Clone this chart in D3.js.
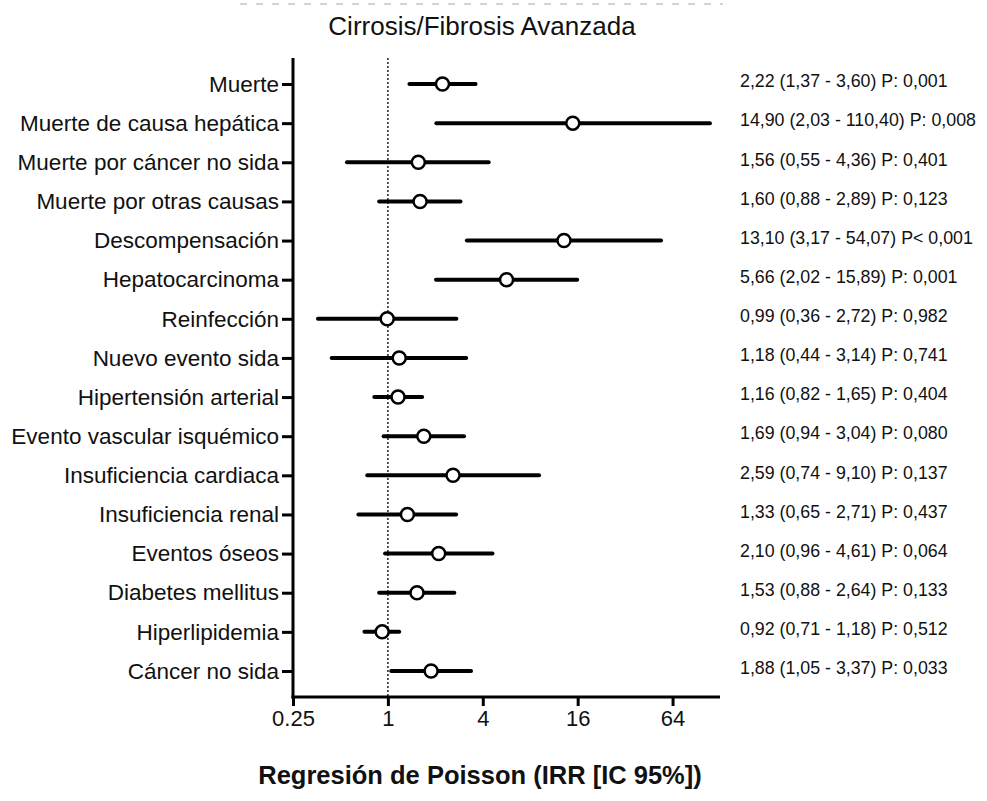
<!DOCTYPE html>
<html lang="es">
<head>
    <meta charset="UTF-8">
    <title>Cirrosis/Fibrosis Avanzada</title>
    <script src="https://cdn.jsdelivr.net/npm/d3@7/dist/d3.min.js"></script>
    <style>
        body { margin: 0; background: #fff; }
        text { font-family: "Liberation Sans", Arial, Helvetica, sans-serif; fill: #111; }
    </style>
</head>
<body>
<div class="forest-container"></div>
<script>
    const width = 987
    const height = 801

    const categories = [
        'Muerte', 'Muerte de causa hepática', 'Muerte por cáncer no sida', 'Muerte por otras causas',
        'Descompensación', 'Hepatocarcinoma', 'Reinfección', 'Nuevo evento sida',
        'Hipertensión arterial', 'Evento vascular isquémico', 'Insuficiencia cardiaca', 'Insuficiencia renal',
        'Eventos óseos', 'Diabetes mellitus', 'Hiperlipidemia', 'Cáncer no sida'
    ]
    const irr = [2.22, 14.90, 1.56, 1.60, 13.10, 5.66, 0.99, 1.18, 1.16, 1.69, 2.59, 1.33, 2.10, 1.53, 0.92, 1.88]
    const lower = [1.37, 2.03, 0.55, 0.88, 3.17, 2.02, 0.36, 0.44, 0.82, 0.94, 0.74, 0.65, 0.96, 0.88, 0.71, 1.05]
    const upper = [3.60, 110.40, 4.36, 2.89, 54.07, 15.89, 2.72, 3.14, 1.65, 3.04, 9.10, 2.71, 4.61, 2.64, 1.18, 3.37]
    const pLabels = ['P: 0,001', 'P: 0,008', 'P: 0,401', 'P: 0,123', 'P< 0,001', 'P: 0,001', 'P: 0,982', 'P: 0,741',
        'P: 0,404', 'P: 0,080', 'P: 0,137', 'P: 0,437', 'P: 0,064', 'P: 0,133', 'P: 0,512', 'P: 0,033']
    const xTicks = [0.25, 1, 4, 16, 64]

    const rows = categories.map((name, i) => ({ name, irr: irr[i], lo: lower[i], hi: upper[i], p: pLabels[i] }))

    const plot = { left: 293, right: 720, top: 58, bottom: 697 }

    const xScale = d3.scaleLog().base(2)
        .domain([0.25, 128])
        .range([plot.left, plot.right])

    const yScale = d3.scalePoint()
        .domain(categories)
        .range([plot.top, plot.bottom])
        .padding(0.665)

    const fmt = v => d3.format('.2f')(v).replace('.', ',')

    const svg = d3.select('.forest-container')
        .append('svg')
        .attr('width', width)
        .attr('height', height)

    // remnant of the cropped header
    svg.append('line')
        .attr('x1', 240).attr('x2', 723)
        .attr('y1', 4).attr('y2', 4)
        .attr('stroke', '#d4d4d4')
        .attr('stroke-width', 2)
        .attr('stroke-dasharray', '7,9')

    svg.append('text')
        .attr('x', 482)
        .attr('y', 35)
        .attr('text-anchor', 'middle')
        .attr('font-size', '26px')
        .text('Cirrosis/Fibrosis Avanzada')

    // reference line at IRR = 1
    svg.append('line')
        .attr('x1', xScale(1)).attr('x2', xScale(1))
        .attr('y1', plot.top).attr('y2', plot.bottom)
        .attr('stroke', '#222')
        .attr('stroke-width', 1.5)
        .attr('stroke-dasharray', '2,2')

    const xAxis = d3.axisBottom(xScale)
        .tickValues(xTicks)
        .tickFormat(d => String(d))
        .tickSizeInner(9)
        .tickSizeOuter(0)
        .tickPadding(4)

    const gx = svg.append('g')
        .attr('transform', `translate(0, ${plot.bottom})`)
        .call(xAxis)
    gx.select('.domain').attr('stroke', '#000').attr('stroke-width', 3)
        .attr('d', `M${plot.left - 1.5},0H${plot.right}`)
    gx.selectAll('.tick line').attr('stroke', '#000').attr('stroke-width', 3)
    gx.selectAll('.tick text').attr('font-size', '22px').attr('fill', '#111')
        .style('font-family', '"Liberation Sans", Arial, sans-serif')

    const yAxis = d3.axisLeft(yScale)
        .tickSizeInner(11)
        .tickSizeOuter(0)
        .tickPadding(3)

    const gy = svg.append('g')
        .attr('transform', `translate(${plot.left}, 0)`)
        .call(yAxis)
    gy.select('.domain').attr('stroke', '#000').attr('stroke-width', 3)
        .attr('d', `M0,${plot.top}V${plot.bottom + 1.5}`)
    gy.selectAll('.tick line').attr('stroke', '#000').attr('stroke-width', 3)
    gy.selectAll('.tick text').attr('font-size', '22.5px').attr('fill', '#111')
        .style('font-family', '"Liberation Sans", Arial, sans-serif')

    svg.selectAll('.ci')
        .data(rows)
        .enter()
        .append('line')
        .attr('class', 'ci')
        .attr('x1', d => xScale(d.lo))
        .attr('x2', d => xScale(d.hi))
        .attr('y1', d => yScale(d.name))
        .attr('y2', d => yScale(d.name))
        .attr('stroke', '#000')
        .attr('stroke-width', 4)
        .attr('stroke-linecap', 'round')

    svg.selectAll('.est')
        .data(rows)
        .enter()
        .append('circle')
        .attr('class', 'est')
        .attr('cx', d => xScale(d.irr))
        .attr('cy', d => yScale(d.name))
        .attr('r', 6.5)
        .attr('fill', '#fff')
        .attr('stroke', '#000')
        .attr('stroke-width', 2.5)

    svg.selectAll('.note')
        .data(rows)
        .enter()
        .append('text')
        .attr('class', 'note')
        .attr('x', 740)
        .attr('y', d => yScale(d.name) - 3)
        .attr('dy', '0.35em')
        .attr('font-size', '17.8px')
        .text(d => `${fmt(d.irr)} (${fmt(d.lo)} - ${fmt(d.hi)}) ${d.p}`)

    svg.append('text')
        .attr('x', 480)
        .attr('y', 784)
        .attr('text-anchor', 'middle')
        .attr('font-size', '25.5px')
        .attr('font-weight', 'bold')
        .text('Regresión de Poisson (IRR [IC 95%])')
</script>
</body>
</html>
